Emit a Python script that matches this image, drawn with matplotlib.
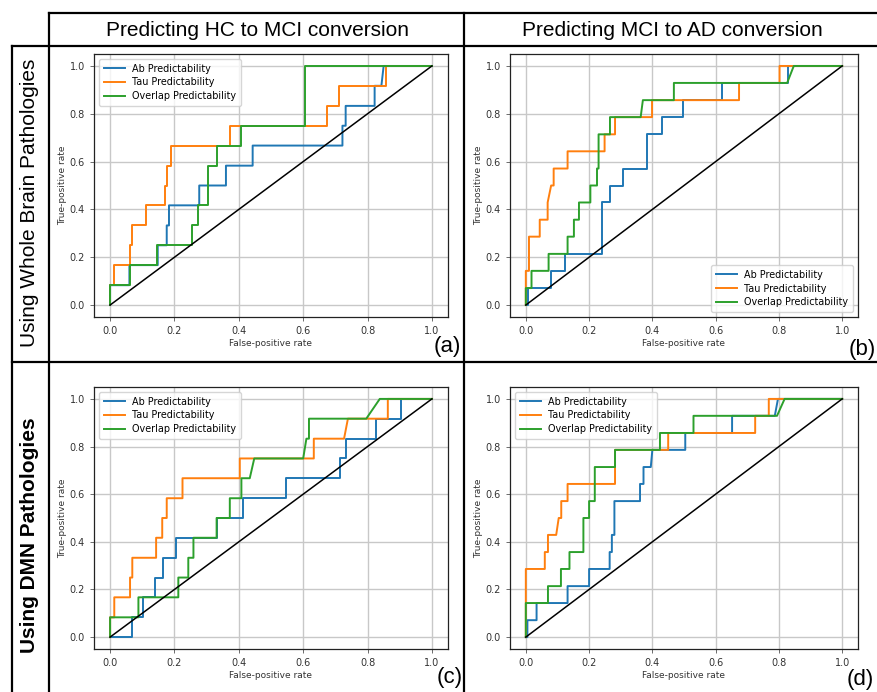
import matplotlib
matplotlib.use('Agg')
import matplotlib.pyplot as plt
from matplotlib.lines import Line2D
from matplotlib import font_manager

# ---------------- data ----------------
col_titles = ['Predicting HC to MCI conversion', 'Predicting MCI to AD conversion']
row_titles = ['Using Whole Brain Pathologies', 'Using DMN Pathologies']
panel_tags = ['(a)', '(b)', '(c)', '(d)']
series_names = ['Ab Predictability', 'Tau Predictability', 'Overlap Predictability']
xticks = [0.0, 0.2, 0.4, 0.6, 0.8, 1.0]
yticks = [0.0, 0.2, 0.4, 0.6, 0.8, 1.0]

# (a) HC -> MCI, whole brain
a_ab_fpr = [0, 0, 0.06, 0.06, 0.148, 0.148, 0.176, 0.176, 0.183, 0.183, 0.277, 0.277, 0.36, 0.36,
            0.443, 0.443, 0.722, 0.722, 0.732, 0.732, 0.822, 0.822, 0.843, 0.85, 1]
a_ab_tpr = [0, 0.083, 0.083, 0.167, 0.167, 0.25, 0.25, 0.333, 0.333, 0.417, 0.417, 0.5, 0.5, 0.583,
            0.583, 0.667, 0.667, 0.75, 0.75, 0.833, 0.833, 0.917, 0.917, 1.0, 1.0]
a_tau_fpr = [0, 0, 0.013, 0.013, 0.062, 0.062, 0.069, 0.069, 0.111, 0.111, 0.171, 0.171, 0.176, 0.176,
             0.189, 0.189, 0.374, 0.374, 0.675, 0.675, 0.71, 0.71, 0.856, 0.856, 1]
a_tau_tpr = [0, 0.083, 0.083, 0.167, 0.167, 0.25, 0.25, 0.333, 0.333, 0.417, 0.417, 0.5, 0.5, 0.583,
             0.583, 0.667, 0.667, 0.75, 0.75, 0.833, 0.833, 0.917, 0.917, 1.0, 1.0]
a_ov_fpr = [0, 0, 0.062, 0.062, 0.145, 0.145, 0.253, 0.253, 0.272, 0.272, 0.305, 0.305, 0.331, 0.331,
            0.408, 0.408, 0.605, 0.605, 1]
a_ov_tpr = [0, 0.083, 0.083, 0.167, 0.167, 0.25, 0.25, 0.333, 0.333, 0.417, 0.417, 0.583, 0.583, 0.667,
            0.667, 0.75, 0.75, 1.0, 1.0]

# (b) MCI -> AD, whole brain
b_ab_fpr = [0, 0.007, 0.007, 0.08, 0.08, 0.123, 0.123, 0.24, 0.24, 0.266, 0.266, 0.308, 0.308, 0.382,
            0.382, 0.432, 0.432, 0.496, 0.496, 0.619, 0.619, 0.83, 0.83, 1]
b_ab_tpr = [0, 0, 0.071, 0.071, 0.143, 0.143, 0.214, 0.214, 0.429, 0.429, 0.5, 0.5, 0.571, 0.571,
            0.714, 0.714, 0.786, 0.786, 0.857, 0.857, 0.929, 0.929, 1.0, 1.0]
b_tau_fpr = [0, 0, 0.01, 0.01, 0.044, 0.044, 0.069, 0.069, 0.08, 0.088, 0.088, 0.132, 0.132, 0.249,
             0.249, 0.282, 0.282, 0.399, 0.399, 0.674, 0.674, 0.802, 0.802, 1]
b_tau_tpr = [0, 0.143, 0.143, 0.286, 0.286, 0.357, 0.357, 0.429, 0.5, 0.5, 0.571, 0.571, 0.643, 0.643,
             0.714, 0.714, 0.786, 0.786, 0.857, 0.857, 0.929, 0.929, 1.0, 1.0]
b_ov_fpr = [0, 0, 0.018, 0.018, 0.072, 0.072, 0.132, 0.132, 0.152, 0.152, 0.168, 0.168, 0.204, 0.204,
            0.225, 0.225, 0.23, 0.23, 0.266, 0.266, 0.363, 0.37, 0.468, 0.468, 0.826, 0.847, 1]
b_ov_tpr = [0, 0.071, 0.071, 0.143, 0.143, 0.214, 0.214, 0.286, 0.286, 0.357, 0.357, 0.429, 0.429, 0.5,
            0.5, 0.571, 0.571, 0.714, 0.714, 0.786, 0.786, 0.857, 0.857, 0.929, 0.929, 1.0, 1.0]

# (c) HC -> MCI, DMN
c_ab_fpr = [0, 0.069, 0.069, 0.103, 0.103, 0.138, 0.138, 0.165, 0.165, 0.204, 0.204, 0.331, 0.331,
            0.414, 0.414, 0.546, 0.546, 0.714, 0.714, 0.734, 0.734, 0.825, 0.825, 0.905, 0.905, 1]
c_ab_tpr = [0, 0, 0.083, 0.083, 0.167, 0.167, 0.25, 0.25, 0.333, 0.333, 0.417, 0.417, 0.5, 0.5,
            0.583, 0.583, 0.667, 0.667, 0.75, 0.75, 0.833, 0.833, 0.917, 0.917, 1.0, 1.0]
c_tau_fpr = [0, 0, 0.013, 0.013, 0.062, 0.062, 0.069, 0.069, 0.143, 0.143, 0.162, 0.162, 0.176, 0.176,
             0.225, 0.225, 0.403, 0.403, 0.633, 0.633, 0.727, 0.739, 0.863, 0.863, 1]
c_tau_tpr = [0, 0.083, 0.083, 0.167, 0.167, 0.25, 0.25, 0.333, 0.333, 0.417, 0.417, 0.5, 0.5, 0.583,
             0.583, 0.667, 0.667, 0.75, 0.75, 0.833, 0.833, 0.917, 0.917, 1.0, 1.0]
c_ov_fpr = [0, 0, 0.088, 0.088, 0.212, 0.212, 0.243, 0.243, 0.259, 0.259, 0.331, 0.331, 0.372, 0.372,
            0.408, 0.408, 0.434, 0.448, 0.6, 0.61, 0.618, 0.618, 0.796, 0.838, 1]
c_ov_tpr = [0, 0.083, 0.083, 0.167, 0.167, 0.25, 0.25, 0.333, 0.333, 0.417, 0.417, 0.5, 0.5, 0.583,
            0.583, 0.667, 0.667, 0.75, 0.75, 0.833, 0.833, 0.917, 0.917, 1.0, 1.0]

# (d) MCI -> AD, DMN
d_ab_fpr = [0, 0.005, 0.005, 0.034, 0.034, 0.132, 0.132, 0.2, 0.2, 0.265, 0.265, 0.272, 0.272, 0.28,
            0.28, 0.361, 0.361, 0.372, 0.372, 0.395, 0.4, 0.504, 0.504, 0.652, 0.652, 0.787, 0.797, 1]
d_ab_tpr = [0, 0, 0.071, 0.071, 0.143, 0.143, 0.214, 0.214, 0.286, 0.286, 0.357, 0.357, 0.429, 0.429,
            0.571, 0.571, 0.643, 0.643, 0.714, 0.714, 0.786, 0.786, 0.857, 0.857, 0.929, 0.929, 1.0, 1.0]
d_tau_fpr = [0, 0, 0.06, 0.06, 0.07, 0.07, 0.096, 0.104, 0.112, 0.112, 0.132, 0.132, 0.282, 0.282,
             0.45, 0.45, 0.725, 0.725, 0.768, 0.768, 1]
d_tau_tpr = [0, 0.286, 0.286, 0.357, 0.357, 0.429, 0.429, 0.5, 0.5, 0.571, 0.571, 0.643, 0.643, 0.786,
             0.786, 0.857, 0.857, 0.929, 0.929, 1.0, 1.0]
d_ov_fpr = [0, 0, 0.07, 0.07, 0.111, 0.111, 0.138, 0.138, 0.182, 0.182, 0.2, 0.2, 0.218, 0.218,
            0.282, 0.282, 0.424, 0.424, 0.53, 0.53, 0.794, 0.818, 1]
d_ov_tpr = [0, 0.143, 0.143, 0.214, 0.214, 0.286, 0.286, 0.357, 0.357, 0.5, 0.5, 0.571, 0.571, 0.714,
            0.714, 0.786, 0.786, 0.857, 0.857, 0.929, 0.929, 1.0, 1.0]

chance_line = [0.0, 1.0]

# ---------------- style ----------------
W, H = 878, 692
colors = ['#1f77b4', '#ff7f0e', '#2ca02c']

avail = {f.name for f in font_manager.fontManager.ttflist}
head_font = 'Liberation Sans Narrow' if 'Liberation Sans Narrow' in avail else 'Liberation Sans'

fig = plt.figure(figsize=(W / 100, H / 100), dpi=100)
fig.patch.set_facecolor('white')


def px_axes(x0, y0, x1, y1):
    return fig.add_axes([x0 / W, 1 - y1 / H, (x1 - x0) / W, (y1 - y0) / H])


panels = [
    ((94, 54, 448, 317), (a_ab_fpr, a_ab_tpr), (a_tau_fpr, a_tau_tpr), (a_ov_fpr, a_ov_tpr), 'upper left'),
    ((510, 54, 858, 317), (b_ab_fpr, b_ab_tpr), (b_tau_fpr, b_tau_tpr), (b_ov_fpr, b_ov_tpr), 'lower right'),
    ((94, 387, 448, 649), (c_ab_fpr, c_ab_tpr), (c_tau_fpr, c_tau_tpr), (c_ov_fpr, c_ov_tpr), 'upper left'),
    ((510, 387, 858, 649), (d_ab_fpr, d_ab_tpr), (d_tau_fpr, d_tau_tpr), (d_ov_fpr, d_ov_tpr), 'upper left'),
]

for rect, ab, tau, ov, loc in panels:
    ax = px_axes(*rect)
    for (fx, ty), c, name in zip([ab, tau, ov], colors, series_names):
        ax.plot(fx, ty, color=c, lw=1.4, label=name)
    ax.plot(chance_line, chance_line, color='black', lw=1.1, zorder=5)
    ax.set_xlim(-0.05, 1.05)
    ax.set_ylim(-0.05, 1.05)
    ax.set_xticks(xticks)
    ax.set_yticks(yticks)
    ax.set_xticklabels([f'{t:.1f}' for t in xticks])
    ax.set_yticklabels([f'{t:.1f}' for t in yticks])
    ax.tick_params(labelsize=7, labelcolor='#333333', length=3, width=0.6, color='#555555')
    ax.grid(True, color='#c8c8c8', lw=1.0)
    ax.set_axisbelow(True)
    for s in ax.spines.values():
        s.set_color('#222222')
        s.set_linewidth(0.9)
    ax.set_xlabel('False-positive rate', fontsize=6.5, color='#333333', labelpad=2)
    ax.set_ylabel('True-positive rate', fontsize=6.5, color='#333333', labelpad=2)
    ax.legend(loc=loc, fontsize=6.9, handlelength=2.2, borderpad=0.5, labelspacing=0.4)

# ---------------- table borders ----------------
def hline(y, x0, x1):
    fig.add_artist(Line2D([x0 / W, x1 / W], [1 - y / H, 1 - y / H], color='black', lw=1.6,
                          transform=fig.transFigure))


def vline(x, y0, y1):
    fig.add_artist(Line2D([x / W, x / W], [1 - y0 / H, 1 - y1 / H], color='black', lw=1.6,
                          transform=fig.transFigure))


hline(12.5, 49, W)
hline(46, 12, W)
hline(362, 12, W)
vline(12.5, 46, H)
vline(49, 12.5, H)
vline(464, 12.5, H)

# headers
fig.text(258 / W, 1 - 30 / H, col_titles[0], ha='center', va='center', fontsize=15,
         family=head_font)
fig.text(672 / W, 1 - 30 / H, col_titles[1], ha='center', va='center', fontsize=15,
         family=head_font)
fig.text(30 / W, 1 - 203 / H, row_titles[0], ha='center', va='center', rotation=90,
         fontsize=15, family='Liberation Sans')
fig.text(30 / W, 1 - 535 / H, row_titles[1], ha='center', va='center', rotation=90,
         fontsize=15, family='Liberation Sans', fontweight='bold')

# panel tags
tag_pos = [(447, 347), (862, 349), (450, 677), (860, 679)]
for t, (x, y) in zip(panel_tags, tag_pos):
    fig.text(x / W, 1 - y / H, t, ha='center', va='center', fontsize=16, family='Liberation Sans')

fig.savefig('out.png', dpi=100)
